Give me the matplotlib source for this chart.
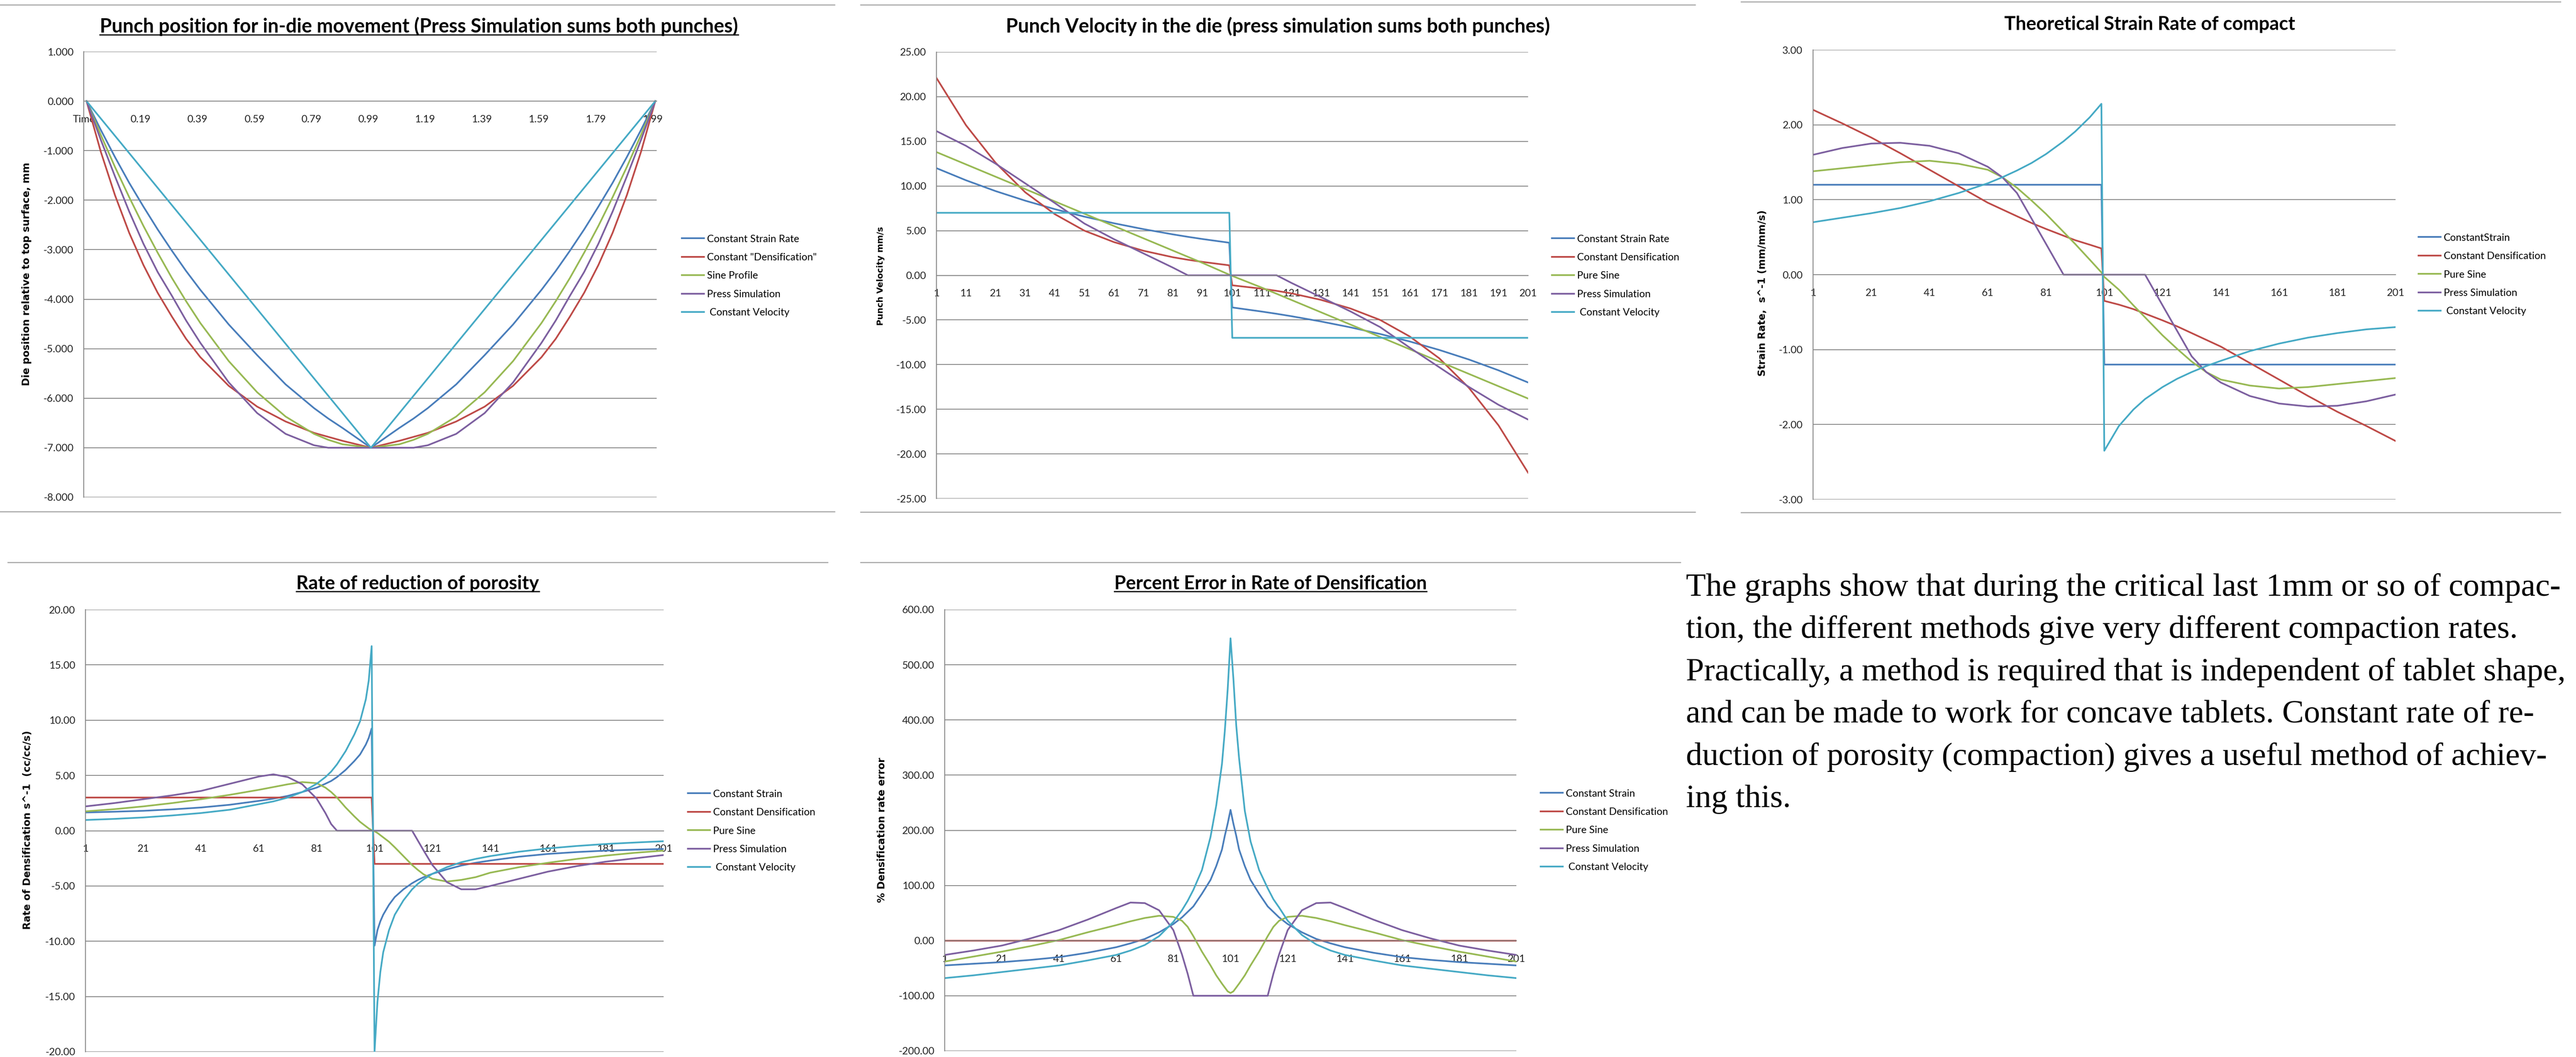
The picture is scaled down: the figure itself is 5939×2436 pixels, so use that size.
import matplotlib
matplotlib.use("Agg")
import matplotlib.pyplot as plt
from matplotlib.lines import Line2D
from matplotlib.ticker import FormatStrFormatter

# ---------------- data ----------------
# panel 1: punch position (x = row number, row 0 is the "Time" header)
p1_x = [1, 6, 11, 16, 21, 26, 31, 36, 41, 51, 61, 71, 81, 86, 91, 101,
        111, 116, 121, 131, 141, 151, 161, 166, 171, 176, 181, 186, 191, 196, 201]
p1_strain = [0, -0.58, -1.13, -1.65, -2.13, -2.59, -3.02, -3.43, -3.81, -4.51, -5.13, -5.72, -6.2, -6.41, -6.6, -7.0,
             -6.6, -6.41, -6.2, -5.72, -5.13, -4.51, -3.81, -3.43, -3.02, -2.59, -2.13, -1.65, -1.13, -0.58, 0]
p1_dens = [0, -1.02, -1.9, -2.66, -3.31, -3.87, -4.35, -4.8, -5.17, -5.75, -6.17, -6.47, -6.7, -6.78, -6.86, -7.0,
           -6.86, -6.78, -6.7, -6.47, -6.17, -5.75, -5.17, -4.8, -4.35, -3.87, -3.31, -2.66, -1.9, -1.02, 0]
p1_sine = [0, -0.68, -1.33, -1.94, -2.52, -3.06, -3.57, -4.04, -4.48, -5.25, -5.88, -6.37, -6.72, -6.84, -6.93, -7.0,
           -6.93, -6.84, -6.72, -6.37, -5.88, -5.25, -4.48, -4.04, -3.57, -3.06, -2.52, -1.94, -1.33, -0.68, 0]
p1_press = [0, -0.78, -1.52, -2.23, -2.88, -3.45, -3.93, -4.43, -4.88, -5.68, -6.3, -6.72, -6.95, -7.0, -7.0, -7.0,
            -7.0, -7.0, -6.95, -6.72, -6.3, -5.68, -4.88, -4.43, -3.93, -3.45, -2.88, -2.23, -1.52, -0.78, 0]
p1_vel_x = [1, 101, 201]
p1_vel = [0, -7.0, 0]
p1_ticks = [0, 20, 40, 60, 80, 100, 120, 140, 160, 180, 200]
p1_ticklabels = ["Time", "0.19", "0.39", "0.59", "0.79", "0.99", "1.19", "1.39", "1.59", "1.79", "1.99"]

# panel 2: punch velocity
p2_x = [1, 11, 21, 31, 41, 51, 61, 71, 81, 86, 91, 100,
        101, 111, 116, 121, 131, 141, 151, 161, 171, 181, 191, 201]
p2_strain = [12.0, 10.64, 9.43, 8.36, 7.41, 6.57, 5.83, 5.17, 4.58, 4.31, 4.06, 3.65,
             -3.6, -4.06, -4.31, -4.58, -5.17, -5.83, -6.57, -7.41, -8.36, -9.43, -10.64, -12.0]
p2_dens = [22.1, 16.8, 12.6, 9.3, 6.85, 5.0, 3.72, 2.75, 2.02, 1.74, 1.5, 1.12,
           -1.12, -1.5, -1.74, -2.02, -2.75, -3.72, -5.0, -6.85, -9.3, -12.6, -16.8, -22.1]
p2_sine = [13.8, 12.42, 11.04, 9.66, 8.28, 6.9, 5.52, 4.14, 2.76, 2.07, 1.38, 0.07,
           -0.07, -1.38, -2.07, -2.76, -4.14, -5.52, -6.9, -8.28, -9.66, -11.04, -12.42, -13.8]
p2_press = [16.15, 14.5, 12.5, 10.3, 8.1, 5.8, 4.05, 2.45, 0.85, 0.0, 0.0, 0.0,
            0.0, 0.0, 0.0, -0.85, -2.45, -4.05, -5.8, -8.1, -10.3, -12.5, -14.5, -16.15]
p2_vel_x = [1, 100, 101, 201]
p2_vel = [7.0, 7.0, -7.0, -7.0]

# panel 3: strain rate
p3_x = [1, 11, 21, 31, 41, 51, 61, 66, 71, 76, 81, 87, 91, 96, 100,
        101, 106, 111, 115, 121, 126, 131, 136, 141, 151, 161, 171, 181, 191, 201]
p3_dens = [2.2, 2.02, 1.83, 1.62, 1.40, 1.18, 0.96, 0.87, 0.78, 0.69, 0.61, 0.52, 0.46, 0.40, 0.35,
           -0.35, -0.40, -0.46, -0.52, -0.61, -0.69, -0.78, -0.87, -0.96, -1.18, -1.40, -1.62, -1.83, -2.02, -2.22]
p3_sine = [1.38, 1.42, 1.46, 1.50, 1.52, 1.48, 1.4, 1.3, 1.16, 0.99, 0.81, 0.57, 0.41, 0.2, 0.03,
           -0.03, -0.2, -0.41, -0.57, -0.81, -0.99, -1.16, -1.3, -1.4, -1.48, -1.52, -1.5, -1.46, -1.42, -1.38]
p3_press = [1.6, 1.69, 1.75, 1.76, 1.72, 1.62, 1.44, 1.3, 1.09, 0.75, 0.41, 0.0, 0.0, 0.0, 0.0,
            0.0, 0.0, 0.0, 0.0, -0.41, -0.75, -1.09, -1.3, -1.44, -1.62, -1.72, -1.76, -1.75, -1.69, -1.6]
p3_vel = [0.70, 0.76, 0.82, 0.89, 0.98, 1.09, 1.22, 1.30, 1.39, 1.49, 1.61, 1.78, 1.91, 2.1, 2.28,
          -2.35, -2.02, -1.8, -1.66, -1.5, -1.39, -1.3, -1.22, -1.15, -1.02, -0.92, -0.84, -0.78, -0.73, -0.70]
p3_strain_x = [1, 100, 101, 201]
p3_strain = [1.2, 1.2, -1.2, -1.2]

# panel 4: rate of reduction of porosity
p4_x = [1, 11, 21, 31, 41, 51, 61, 66, 71, 76, 81, 84, 86, 88, 91, 94, 96, 98, 99, 100,
        101, 102, 103, 104, 106, 108, 111, 114, 116, 118, 121, 126, 131, 136, 141, 151, 161, 171, 181, 191, 201]
p4_strain = [1.65, 1.72, 1.8, 1.93, 2.1, 2.35, 2.7, 2.9, 3.15, 3.5, 3.9, 4.25, 4.5, 4.85, 5.5, 6.3, 6.9, 7.8, 8.4, 9.25,
             -10.4, -9.0, -8.2, -7.6, -6.7, -6.0, -5.3, -4.75, -4.45, -4.2, -3.9, -3.5, -3.15, -2.9, -2.7, -2.35,
             -2.1, -1.93, -1.8, -1.72, -1.65]
p4_sine = [1.75, 1.95, 2.2, 2.5, 2.85, 3.25, 3.7, 3.95, 4.2, 4.4, 4.3, 3.9, 3.5, 3.0, 2.1, 1.3, 0.8, 0.4, 0.2, 0.05,
           -0.05, -0.2, -0.4, -0.6, -1.0, -1.5, -2.3, -3.1, -3.55, -3.95, -4.35, -4.6, -4.45, -4.2, -3.8, -3.3,
           -2.9, -2.55, -2.25, -2.0, -1.8]
p4_press = [2.2, 2.5, 2.85, 3.2, 3.6, 4.25, 4.9, 5.1, 4.85, 4.2, 2.9, 1.6, 0.6, 0, 0, 0, 0, 0, 0, 0,
            0, 0, 0, 0, 0, 0, 0, 0, -0.9, -1.8, -3.1, -4.65, -5.3, -5.3, -5.0, -4.35, -3.7, -3.2, -2.8, -2.5, -2.2]
p4_vel = [0.97, 1.07, 1.2, 1.38, 1.6, 1.9, 2.4, 2.65, 3.0, 3.5, 4.25, 4.85, 5.35, 6.0, 7.2, 8.7, 9.9, 11.9, 13.6, 16.7,
          -20.0, -15.5, -12.8, -11.0, -9.0, -7.6, -6.3, -5.3, -4.8, -4.4, -3.9, -3.3, -2.85, -2.55, -2.3, -1.9,
          -1.6, -1.38, -1.2, -1.07, -0.95]
p4_dens_x = [1, 100, 101, 201]
p4_dens = [3.0, 3.0, -3.0, -3.0]

# panel 5: percent error in rate of densification
p5_x = p4_x
p5_strain = [-45, -42, -39, -35, -30, -22, -12, -5, 3, 15, 30, 42, 52, 62, 85, 110, 135, 165, 190, 212,
             237, 212, 190, 165, 135, 110, 85, 62, 52, 42, 30, 15, 3, -5, -12, -22, -30, -35, -39, -42, -45]
p5_sine = [-38, -29, -20, -10, 1, 15, 28, 35, 41, 45, 43, 36, 25, 8, -20, -45, -63, -78, -85, -92,
           -95, -92, -85, -78, -63, -45, -20, 8, 25, 36, 43, 45, 41, 35, 28, 15, 1, -10, -20, -29, -38]
p5_press = [-26, -18, -9, 4, 19, 38, 59, 69, 68, 55, 19, -25, -60, -100, -100, -100, -100, -100, -100, -100,
            -100, -100, -100, -100, -100, -100, -100, -100, -60, -25, 19, 55, 68, 69, 59, 38, 19, 4, -9, -18, -26]
p5_vel = [-68, -63, -57, -51, -45, -36, -26, -18, -8, 8, 34, 55, 72, 92, 128, 188, 245, 320, 380, 455,
          548, 475, 390, 330, 235, 180, 128, 95, 75, 60, 36, 10, -7, -18, -26, -36, -45, -51, -57, -63, -68]
p5_dens_x = [1, 201]
p5_dens = [0, 0]

text_lines = [
    "The graphs show that during the critical last 1mm or so of compac-",
    "tion, the different methods give very different compaction rates.",
    "Practically, a method is required that is independent of tablet shape,",
    "and can be made to work for concave tablets. Constant rate of re-",
    "duction of porosity (compaction) gives a useful method of achiev-",
    "ing this.",
]

# ---------------- drawing ----------------
W, H = 5939, 2436
plt.rcParams['font.family'] = ['Lato', 'DejaVu Sans']
plt.rcParams['axes.unicode_minus'] = False

BLUE, RED, GREEN, PURPLE, CYAN = '#4A7EBB', '#BE4B48', '#98B954', '#7D60A0', '#46AAC5'
GRID = '#868686'
LW = 2.8

fig = plt.figure(figsize=(W / 100, H / 100), dpi=100)


def make_axes(left, right, top, bottom):
    return fig.add_axes([left / W, 1 - bottom / H, (right - left) / W, (bottom - top) / H])


def style_axes(ax, ylim, ystep, fmt, xlim, xticks, xlabels):
    ax.set_ylim(*ylim)
    n = int(round((ylim[1] - ylim[0]) / ystep))
    ax.set_yticks([ylim[0] + k * ystep for k in range(n + 1)])
    ax.yaxis.set_major_formatter(FormatStrFormatter(fmt))
    ax.set_xlim(*xlim)
    ax.set_xticks(xticks)
    ax.set_xticklabels(xlabels)
    ax.grid(axis='y', color=GRID, lw=1.4)
    ax.set_axisbelow(True)
    ax.spines['top'].set_visible(False)
    ax.spines['right'].set_visible(False)
    ax.spines['left'].set_color(GRID)
    ax.spines['left'].set_linewidth(1.4)
    ax.spines['bottom'].set_position(('data', 0))
    ax.spines['bottom'].set_color(GRID)
    ax.spines['bottom'].set_linewidth(1.4)
    ax.tick_params(axis='y', length=0, pad=17, labelsize=17, labelcolor='#222222')
    ax.tick_params(axis='x', length=0, pad=23, labelsize=17, labelcolor='#222222')


def add_legend(ax, x, y):
    ax.legend(loc='center left', bbox_to_anchor=(x / W, 1 - y / H), bbox_transform=fig.transFigure,
              frameon=False, fontsize=16.8, handlelength=2.2, handletextpad=0.3,
              labelspacing=0.92, borderpad=0, borderaxespad=0)


titles = []


def add_title(text, cx, base, width, underline):
    t = fig.text(cx / W, 1 - base / H, text, ha='center', va='baseline', fontsize=28, fontweight='bold')
    titles.append((t, base, width, underline))


def add_ylabel(text, x, y, size):
    fig.text(x / W, 1 - y / H, text, rotation=90, ha='center', va='center',
             family='DejaVu Sans', fontweight='bold', fontsize=size)


# panel 1
ax1 = make_axes(193, 1514, 119, 1146)
ax1.plot(p1_x, p1_strain, color=BLUE, lw=LW, label='Constant Strain Rate')
ax1.plot(p1_x, p1_dens, color=RED, lw=LW, label='Constant "Densification"')
ax1.plot(p1_x, p1_sine, color=GREEN, lw=LW, label='Sine Profile')
ax1.plot(p1_x, p1_press, color=PURPLE, lw=LW, label='Press Simulation')
ax1.plot(p1_vel_x, p1_vel, color=CYAN, lw=LW, label=' Constant Velocity')
style_axes(ax1, (-8, 1), 1, '%.3f', (0, 201.5), p1_ticks, p1_ticklabels)
add_legend(ax1, 1572, 636)
add_title('Punch position for in-die movement (Press Simulation sums both punches)', 966, 75, 1471, True)
add_ylabel('Die position relative to top surface, mm', 62, 632, 16.5)

# panel 2
ax2 = make_axes(2159, 3523, 120, 1149)
ax2.plot(p2_x, p2_strain, color=BLUE, lw=LW, label='Constant Strain Rate')
ax2.plot(p2_x, p2_dens, color=RED, lw=LW, label='Constant Densification')
ax2.plot(p2_x, p2_sine, color=GREEN, lw=LW, label='Pure Sine')
ax2.plot(p2_x, p2_press, color=PURPLE, lw=LW, label='Press Simulation')
ax2.plot(p2_vel_x, p2_vel, color=CYAN, lw=LW, label=' Constant Velocity')
style_axes(ax2, (-25, 25), 5, '%.2f', (1, 201), list(range(1, 202, 10)), [str(v) for v in range(1, 202, 10)])
add_legend(ax2, 3578, 636)
add_title('Punch Velocity in the die (press simulation sums both punches)', 2946, 75, 1253, False)
add_ylabel('Punch Velocity mm/s', 2030, 636, 14)

# panel 3
ax3 = make_axes(4180, 5523, 115, 1151)
ax3.plot(p3_strain_x, p3_strain, color=BLUE, lw=LW, label='ConstantStrain')
ax3.plot(p3_x, p3_dens, color=RED, lw=LW, label='Constant Densification')
ax3.plot(p3_x, p3_sine, color=GREEN, lw=LW, label='Pure Sine')
ax3.plot(p3_x, p3_press, color=PURPLE, lw=LW, label='Press Simulation')
ax3.plot(p3_x, p3_vel, color=CYAN, lw=LW, label=' Constant Velocity')
style_axes(ax3, (-3, 3), 1, '%.2f', (1, 201), list(range(1, 202, 20)), [str(v) for v in range(1, 202, 20)])
add_legend(ax3, 5576, 633)
add_title('Theoretical Strain Rate of compact', 4956, 69, 669, False)
add_ylabel('Strain Rate,  s^-1 (mm/mm/s)', 4063, 675, 16.5)

# panel 4
ax4 = make_axes(197, 1530, 1405, 2424)
ax4.plot(p4_x, p4_strain, color=BLUE, lw=LW, label='Constant Strain')
ax4.plot(p4_dens_x, p4_dens, color=RED, lw=LW, label='Constant Densification')
ax4.plot(p4_x, p4_sine, color=GREEN, lw=LW, label='Pure Sine')
ax4.plot(p4_x, p4_press, color=PURPLE, lw=LW, label='Press Simulation')
ax4.plot(p4_x, p4_vel, color=CYAN, lw=LW, label=' Constant Velocity')
style_axes(ax4, (-20, 20), 5, '%.2f', (1, 201), list(range(1, 202, 20)), [str(v) for v in range(1, 202, 20)])
add_legend(ax4, 1586, 1915)
add_title('Rate of reduction of porosity', 963, 1358, 560, True)
add_ylabel('Rate of Densification s^-1  (cc/cc/s)', 64, 1913, 16.5)

# panel 5
ax5 = make_axes(2178, 3496, 1405, 2422)
ax5.plot(p5_x, p5_strain, color=BLUE, lw=LW, label='Constant Strain')
ax5.plot(p5_dens_x, p5_dens, color=RED, lw=LW, label='Constant Densification')
ax5.plot(p5_x, p5_sine, color=GREEN, lw=LW, label='Pure Sine')
ax5.plot(p5_x, p5_press, color=PURPLE, lw=LW, label='Press Simulation')
ax5.plot(p5_x, p5_vel, color=CYAN, lw=LW, label=' Constant Velocity')
style_axes(ax5, (-200, 600), 100, '%.2f', (1, 201), list(range(1, 202, 20)), [str(v) for v in range(1, 202, 20)])
add_legend(ax5, 3552, 1914)
add_title('Percent Error in Rate of Densification', 2929, 1358, 720, True)
add_ylabel('% Densification rate error', 2034, 1913, 16.5)

# chart frame edges (horizontal borders of the pasted Excel charts)
for x0, x1, y in [(0, 1924, 11), (1984, 3908, 11), (4014, 5903, 4),
                  (0, 1924, 1179), (1984, 3908, 1180), (4014, 5903, 1181),
                  (18, 1908, 1296), (1984, 3874, 1296)]:
    fig.add_artist(Line2D([x0 / W, x1 / W], [1 - y / H, 1 - y / H], color='#A6A6A6', lw=1.8))

# explanatory paragraph
for k, line in enumerate(text_lines):
    fig.text(3887 / W, 1 - (1373 + 97.4 * k) / H, line, ha='left', va='baseline',
             family='Liberation Serif', fontsize=54)

# fit the title widths to the original, then underline where the original does
fig.canvas.draw()
for t, base, width, underline in titles:
    bb = t.get_window_extent()
    t.set_fontsize(t.get_fontsize() * width / bb.width)
fig.canvas.draw()
for t, base, width, underline in titles:
    if underline:
        bb = t.get_window_extent()
        y = 1 - (base + 5) / H
        fig.add_artist(Line2D([bb.x0 / W, bb.x1 / W], [y, y], color='black', lw=2.0))

fig.savefig('out.png', dpi=100)
